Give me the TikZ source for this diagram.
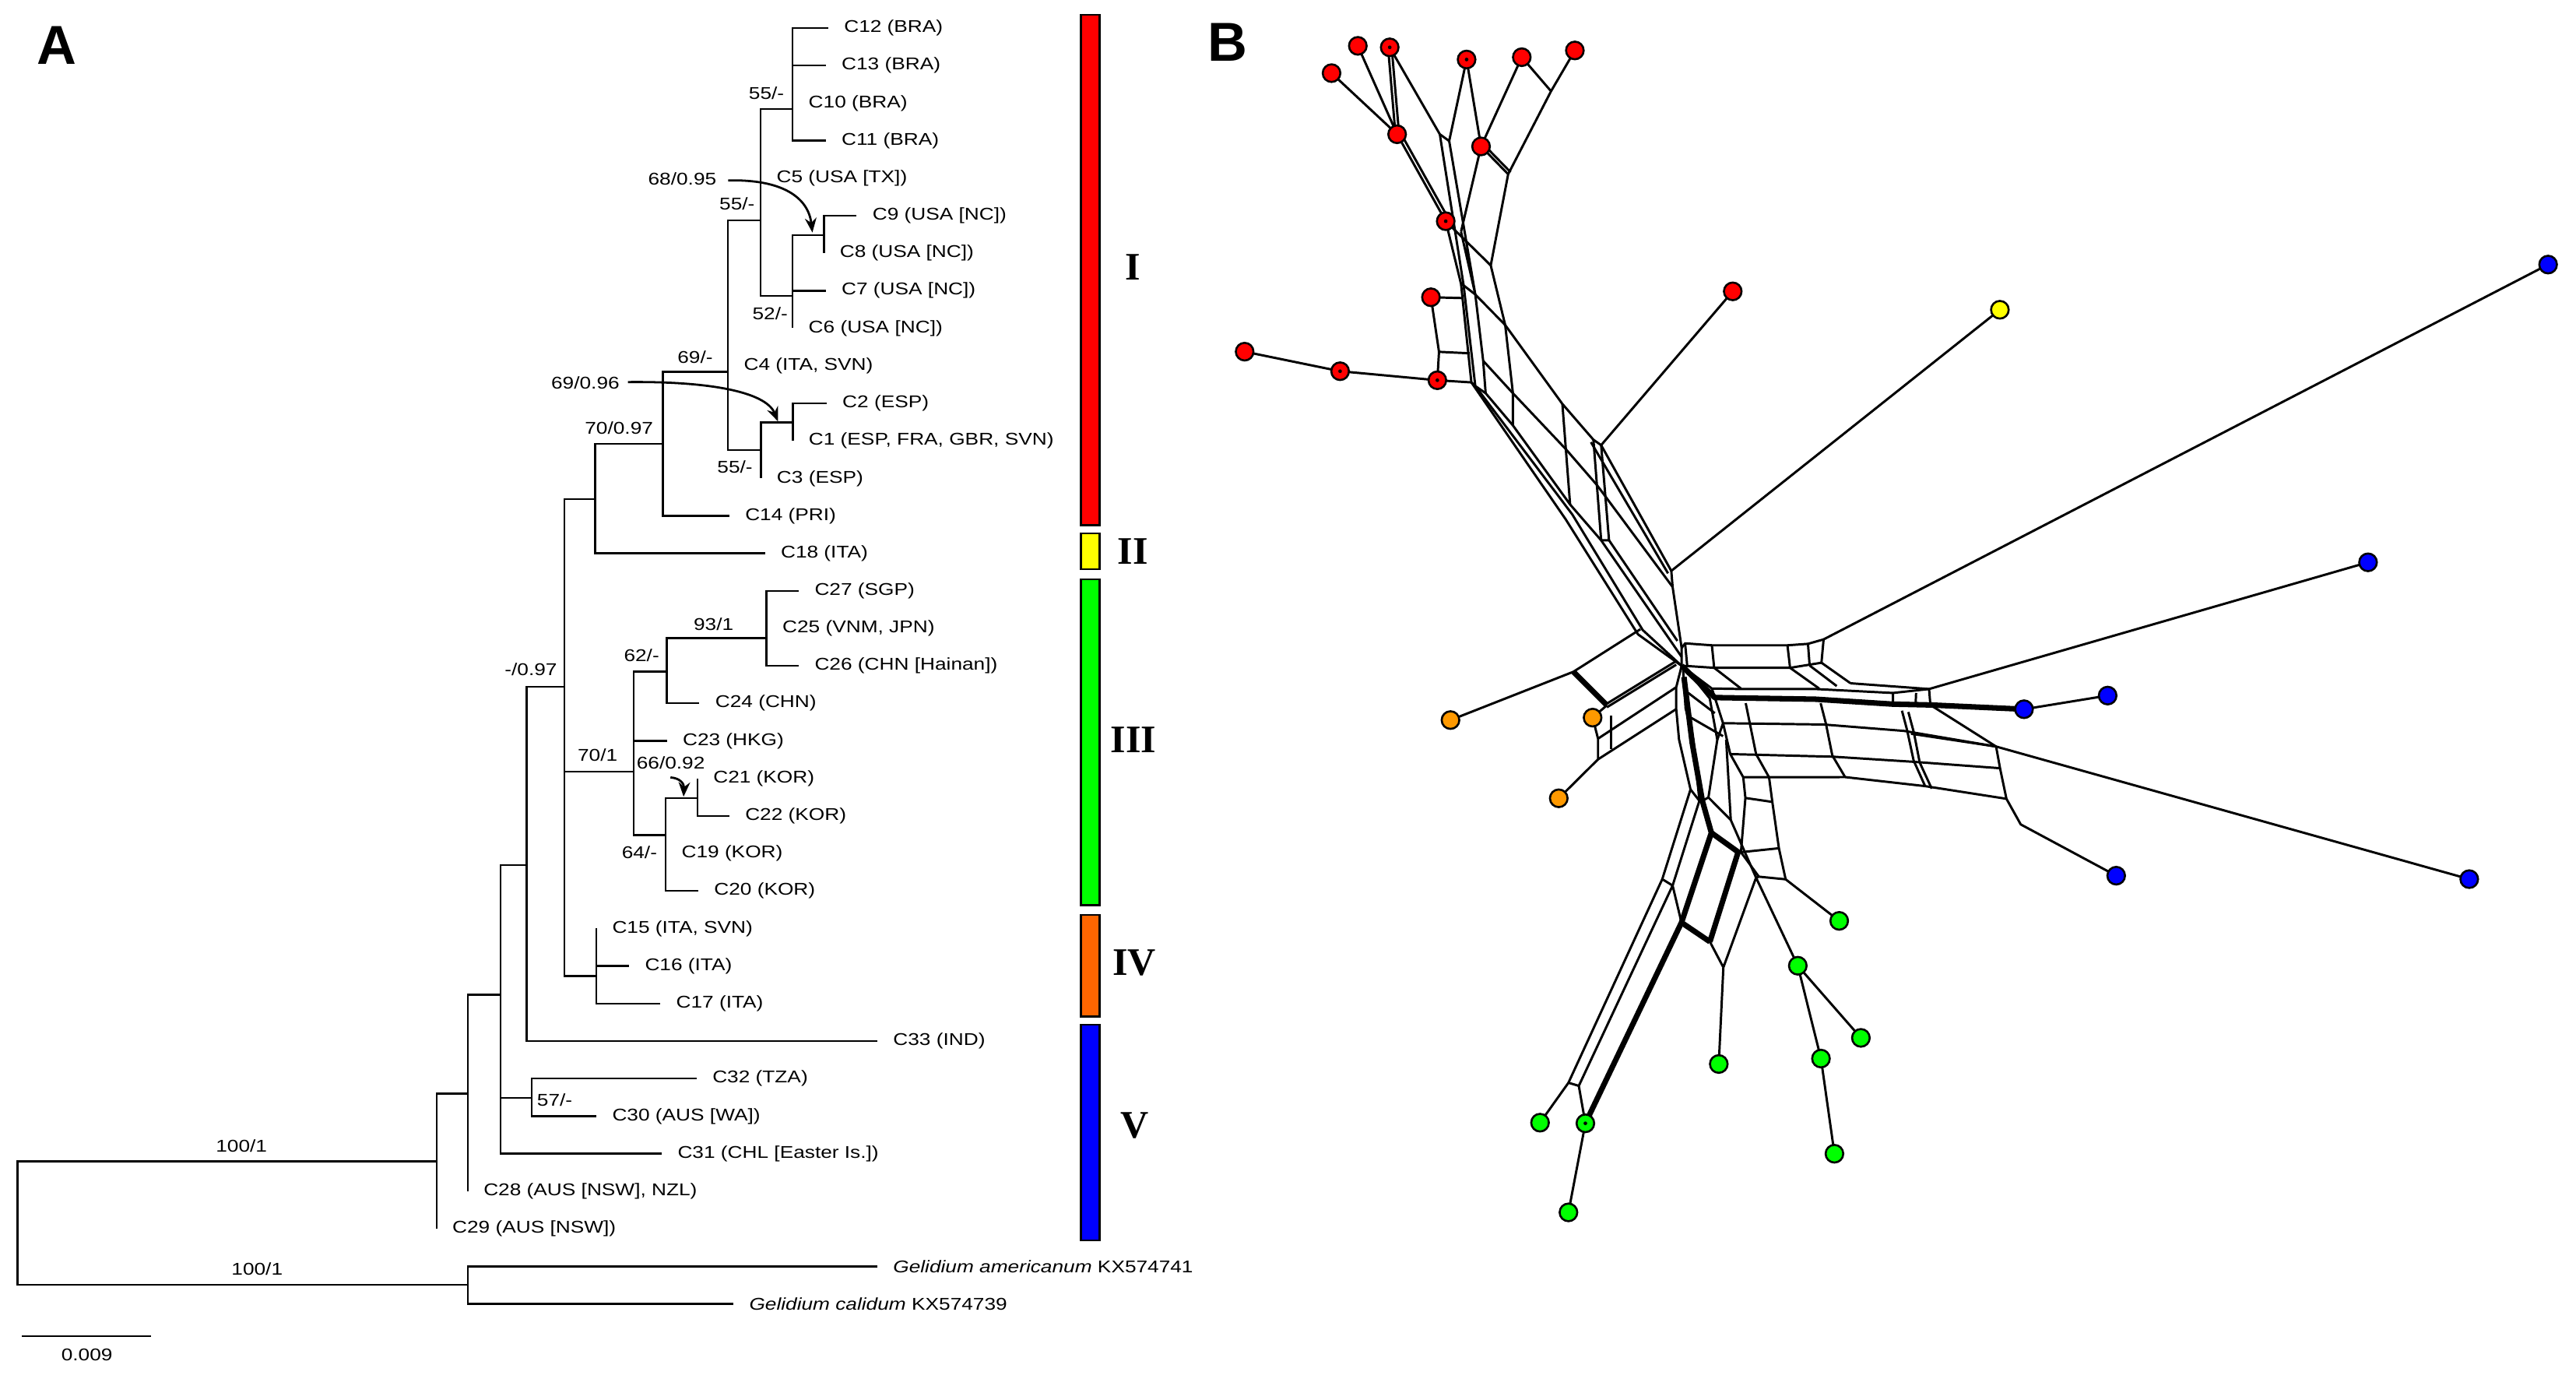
\documentclass[tikz,border=0pt]{standalone}
\usepackage{fontspec}
\setmainfont{Liberation Sans}
\newfontfamily\arialw[FakeStretch=1.2]{Liberation Sans}
\newfontfamily\timesf{Liberation Serif}
\usetikzlibrary{arrows.meta,calc}
\definecolor{cI}{RGB}{255,0,0}
\definecolor{cII}{RGB}{255,255,0}
\definecolor{cIII}{RGB}{0,255,0}
\definecolor{cIV}{RGB}{255,102,0}
\definecolor{cV}{RGB}{0,0,255}
\definecolor{cOr}{RGB}{255,153,0}
\begin{document}
\begin{tikzpicture}[x=0.02cm,y=-0.02cm,
  br/.style={line width=0.65pt},
  tl/.style={anchor=west,inner sep=0pt,outer xsep=0.194cm,font=\arialw\fontsize{5.9}{7}\selectfont},
  sl/.style={inner sep=0pt,font=\arialw\fontsize{5.9}{7}\selectfont},
  arr/.style={line width=0.75pt,-{Stealth[length=5pt,width=4pt]}},
  bar/.style={draw=black,line width=0.6pt},
  roman/.style={inner sep=0pt,font=\timesf\bfseries\fontsize{13.5}{14}\selectfont},
  panel/.style={inner sep=0pt,font=\bfseries\fontsize{19}{20}\selectfont},
  nw/.style={line width=0.8pt,line join=round},
  nwt/.style={line width=1.9pt,line join=round},
  dot/.style={circle,draw=black,line width=0.7pt,minimum size=0.215cm,inner sep=0pt},
  pin/.style={circle,fill=black,minimum size=0.045cm,inner sep=0pt}]
\useasboundingbox (0,0) rectangle (1568,843);
% ================= PANEL A =================
\node[panel] (pA) at (34.7,27.8) {A};
% tips
\node[tl] (c12) at (504.1,17.1) {C12 (BRA)};
\node[tl] (c13) at (502.6,39.9) {C13 (BRA)};
\node[tl] (c10) at (482.5,62.8) {C10 (BRA)};
\node[tl] (c11) at (502.6,85.6) {C11 (BRA)};
\node[tl] (c5) at (463,108.4) {C5 (USA [TX])};
\node[tl] (c9) at (521.4,131.3) {C9 (USA [NC])};
\node[tl] (c8) at (501.5,154.1) {C8 (USA [NC])};
\node[tl] (c7) at (502.6,176.9) {C7 (USA [NC])};
\node[tl] (c6) at (482.5,199.7) {C6 (USA [NC])};
\node[tl] (c4) at (443.1,222.6) {C4 (ITA, SVN)};
\node[tl] (c2) at (503.1,245.4) {C2 (ESP)};
\node[tl] (c1) at (482.6,268.2) {C1 (ESP, FRA, GBR, SVN)};
\node[tl] (c3) at (463.2,291.1) {C3 (ESP)};
\node[tl] (c14) at (443.9,313.9) {C14 (PRI)};
\node[tl] (c18) at (465.6,336.7) {C18 (ITA)};
\node[tl] (c27) at (486.2,359.6) {C27 (SGP)};
\node[tl] (c25) at (466.6,382.4) {C25 (VNM, JPN)};
\node[tl] (c26) at (486.2,405.2) {C26 (CHN [Hainan])};
\node[tl] (c24) at (425.7,428.0) {C24 (CHN)};
\node[tl] (c23) at (405.9,450.9) {C23 (HKG)};
\node[tl] (c21) at (424.5,473.7) {C21 (KOR)};
\node[tl] (c22) at (443.9,496.5) {C22 (KOR)};
\node[tl] (c19) at (405.2,519.4) {C19 (KOR)};
\node[tl] (c20) at (425,542.2) {C20 (KOR)};
\node[tl] (c15) at (363,565.0) {C15 (ITA, SVN)};
\node[tl] (c16) at (382.9,587.9) {C16 (ITA)};
\node[tl] (c17) at (401.9,610.7) {C17 (ITA)};
\node[tl] (c33) at (534,633.5) {C33 (IND)};
\node[tl] (c32) at (424,656.3) {C32 (TZA)};
\node[tl] (c30) at (363,679.2) {C30 (AUS [WA])};
\node[tl] (c31) at (402.8,702.0) {C31 (CHL [Easter Is.])};
\node[tl] (c28) at (284.7,724.8) {C28 (AUS [NSW], NZL)};
\node[tl] (c29) at (265.7,747.7) {C29 (AUS [NSW])};
\node[tl] (gam) at (534,770.8) {\textit{Gelidium americanum} KX574741};
\node[tl] (gcal) at (446.4,793.4) {\textit{Gelidium calidum} KX574739};
% internal nodes
\coordinate (root) at (10.6,744);
\coordinate (og) at (284.7,781.9);
\coordinate (n1) at (265.7,706.7);
\coordinate (n2) at (284.7,665.5);
\coordinate (n3) at (304.6,605.3);
\coordinate (n4) at (320.6,526.4);
\coordinate (n5) at (323.7,668);
\coordinate (n6) at (343.5,417.8);
\coordinate (n7) at (362.2,303.6);
\coordinate (n8) at (403.5,270.1);
\coordinate (n9) at (443.1,226.2);
\coordinate (n10) at (463,134);
\coordinate (n11) at (482.5,66.3);
\coordinate (n12) at (482.5,180);
\coordinate (n13) at (501.5,143);
\coordinate (n14) at (463.2,274);
\coordinate (n15) at (482.6,257.1);
\coordinate (n16) at (385.8,469.5);
\coordinate (n17) at (405.9,408.6);
\coordinate (n18) at (466.6,388.3);
\coordinate (n19) at (405.2,508.2);
\coordinate (n20) at (424.5,485.7);
\coordinate (n21) at (363,594);
% branches
\draw[br] (root) |- (n1) (root) |- (og);
\draw[br] (og) |- (gam.west) (og) |- (gcal.west);
\draw[br] (n1) |- (n2) (n1) |- (c29.west);
\draw[br] (n2) |- (n3) (n2) |- (c28.west);
\draw[br] (n3) |- (n4) (n3) |- (n5) (n3) |- (c31.west);
\draw[br] (n5) |- (c32.west) (n5) |- (c30.west);
\draw[br] (n4) |- (n6) (n4) |- (c33.west);
\draw[br] (n6) |- (n7) (n6) |- (n16) (n6) |- (n21);
\draw[br] (n7) |- (n8) (n7) |- (c18.west);
\draw[br] (n8) |- (n9) (n8) |- (c14.west);
\draw[br] (n9) |- (n10) (n9) |- (c4.west) (n9) |- (n14);
\draw[br] (n10) |- (n11) (n10) |- (c5.west) (n10) |- (n12);
\draw[br] (n11) |- (c12.west) (n11) |- (c13.west) (n11) |- (c10.west) (n11) |- (c11.west);
\draw[br] (n12) |- (n13) (n12) |- (c7.west) (n12) |- (c6.west);
\draw[br] (n13) |- (c9.west) (n13) |- (c8.west);
\draw[br] (n14) |- (n15) (n14) |- (c3.west);
\draw[br] (n15) |- (c2.west) (n15) |- (c1.west);
\draw[br] (n16) |- (n17) (n16) |- (c23.west) (n16) |- (n19);
\draw[br] (n17) |- (n18) (n17) |- (c24.west);
\draw[br] (n18) |- (c27.west) (n18) |- (c25.west) (n18) |- (c26.west);
\draw[br] (n19) |- (n20) (n19) |- (c19.west) (n19) |- (c20.west);
\draw[br] (n20) |- (c21.west) (n20) |- (c22.west);
\draw[br] (n21) |- (c15.west) (n21) |- (c16.west) (n21) |- (c17.west);
% support values
\node[sl,anchor=east] (s1) at (477.6,56.9) {55/-};
\node[sl,anchor=east] (s2) at (436.4,109) {68/0.95};
\node[sl,anchor=east] (s3) at (459.7,124) {55/-};
\node[sl,anchor=east] (s4) at (479.8,191) {52/-};
\node[sl,anchor=east] (s5) at (434.2,217.2) {69/-};
\node[sl,anchor=east] (s6) at (377.4,233) {69/0.96};
\node[sl,anchor=east] (s7) at (397.9,260.6) {70/0.97};
\node[sl,anchor=east] (s8) at (458.4,284.3) {55/-};
\node[sl,anchor=east] (s9) at (446.8,379.9) {93/1};
\node[sl,anchor=east] (s10) at (401.6,398.8) {62/-};
\node[sl,anchor=east] (s11) at (339.4,407.5) {-/0.97};
\node[sl,anchor=east] (s12) at (376.2,459.7) {70/1};
\node[sl,anchor=east] (s13) at (429.4,464.4) {66/0.92};
\node[sl,anchor=east] (s14) at (400.3,518.9) {64/-};
\node[sl,anchor=west] (s15) at (326.6,669.2) {57/-};
\node[sl] (s16) at (147,697.5) {100/1};
\node[sl] (s17) at (156.5,772.3) {100/1};
% arrows
\coordinate (t68) at (494.5,141.5);
\coordinate (t69) at (473.6,256.5);
\coordinate (t66) at (416.1,484.8);
\draw[arr] ($(s2.east)+(6.8,0.8)$) .. controls (476,109) and (492,120) .. (t68);
\draw[arr] ($(s6.east)+(4.8,-0.5)$) .. controls (430,232) and (466,238) .. (t69);
\draw[arr] (408.1,473.1) .. controls (414,473.5) and (416.5,477) .. (t66);
% scale bar
\coordinate (sb1) at (13.5,813.2);
\coordinate (sb2) at (91.8,813.2);
\draw[br] (sb1) -- (sb2);
\node[sl] (sbl) at (52.9,824.5) {0.009};
% clade bars
\draw[bar,fill=cI] (657.9,9) rectangle (669.3,319.6);
\draw[bar,fill=cII] (657.9,324.4) rectangle (669.3,346.2);
\draw[bar,fill=cIII] (657.9,352.5) rectangle (669.3,550.8);
\draw[bar,fill=cIV] (657.9,556.6) rectangle (669.3,618.6);
\draw[bar,fill=cV] (657.9,623.4) rectangle (669.3,755);
\node[roman] (rI) at (689.5,162.4) {I};
\node[roman] (rII) at (689.5,335.6) {II};
\node[roman] (rIII) at (690,450.2) {III};
\node[roman] (rIV) at (690.5,585.7) {IV};
\node[roman] (rV) at (690.5,684.9) {V};
% ================= PANEL B =================
\node[panel] (pB) at (747.1,25.7) {B};
% dot positions
\coordinate (rd1) at (826.5,27.9);
\coordinate (rd2) at (845.9,28.8);
\coordinate (rd3) at (810.5,44.5);
\coordinate (rd4) at (892.7,36.2);
\coordinate (rd5) at (926.3,34.8);
\coordinate (rd6) at (958.6,30.7);
\coordinate (rd7) at (850.4,81.7);
\coordinate (rd8) at (901.5,89.1);
\coordinate (rd9) at (880.0,134.6);
\coordinate (rd10) at (871.0,180.9);
\coordinate (rd11) at (1054.7,177.3);
\coordinate (rd12) at (757.6,214.0);
\coordinate (rd13) at (815.7,225.9);
\coordinate (rd14) at (874.9,231.4);
\coordinate (yd1) at (1217.3,188.5);
\coordinate (bd1) at (1551,161);
\coordinate (bd2) at (1441.4,342.2);
\coordinate (bd3) at (1282.9,423.3);
\coordinate (bd4) at (1232,431.6);
\coordinate (bd5) at (1288.1,532.9);
\coordinate (bd6) at (1503,535);
\coordinate (od1) at (882.9,438.2);
\coordinate (od2) at (969.4,436.7);
\coordinate (od3) at (948.8,485.8);
\coordinate (gd1) at (1119.5,560.4);
\coordinate (gd2) at (1094.3,587.7);
\coordinate (gd3) at (1132.7,631.6);
\coordinate (gd4) at (1046.2,647.5);
\coordinate (gd5) at (1108.4,644.2);
\coordinate (gd6) at (1116.6,702.1);
\coordinate (gd7) at (937.4,683.2);
\coordinate (gd8) at (965,683.6);
\coordinate (gd9) at (954.7,737.8);
% internal network points
\coordinate (J1) at (876.4,81.7);
\coordinate (J2) at (882.1,85.8);
\coordinate (J3) at (944.1,55.5);
\coordinate (J4) at (918,106);
\coordinate (J5) at (907.4,161.5);
\coordinate (K1) at (889.3,141);
\coordinate (T1) at (889.3,172.7);
\coordinate (T2) at (890.9,173.7);
\coordinate (T3) at (898,179.2);
\coordinate (T4) at (895.6,232.7);
\coordinate (T5) at (898,234.9);
\coordinate (T6) at (904.3,239.3);
\coordinate (T7) at (902.8,219.6);
\coordinate (T8) at (916.2,197.8);
\coordinate (T9) at (920.9,239.3);
\coordinate (T10) at (920.9,258.9);
\coordinate (T11) at (951,245.8);
\coordinate (T12) at (955.7,307);
\coordinate (T13) at (969.9,267.6);
\coordinate (T14) at (974.6,328.8);
\coordinate (T15) at (974.6,270.9);
\coordinate (T16) at (979.4,328.8);
\coordinate (T17) at (1017.3,347.4);
\coordinate (T18) at (1018.1,357.2);
\coordinate (T19) at (1023.6,394.3);
\coordinate (H) at (1023.6,405.2);
% red top
\draw[nw] (rd3) -- (rd7) (rd1) -- (rd7);
\draw[nw] ($(rd2)+(-1,0)$) -- ($(rd7)+(-1,0)$) ($(rd2)+(1.2,0)$) -- ($(rd7)+(1.2,0)$);
\draw[nw] (rd2) -- (J1) -- (J2) -- (rd4);
\draw[nw] (rd4) -- (rd8) (rd5) -- (rd8) (rd5) -- (J3) (rd6) -- (J3) (J3) -- (J4);
\draw[nw] (rd8) -- (J4) ($(rd8)+(1.5,-1.2)$) -- ($(J4)+(1.5,-1.2)$);
\draw[nw] (J4) -- (J5);
\draw[nw] (rd7) -- (rd9) ($(rd7)+(2,-1)$) -- ($(rd9)+(2,-1)$);
\draw[nw] (rd9) -- (J5) (rd8) -- (K1);
% trunk
\draw[nw] (rd9) -- (T1) -- (T4);
\draw[nw] (J1) -- (T2) -- (T5);
\draw[nw] (J2) -- (T3) (K1) -- (T3) -- (T7) -- (T6);
\draw[nw] (T1) -- (T2) -- (T3);
\draw[nw] (J5) -- (T8) -- (T9) -- (T10);
\draw[nw] (T11) -- (T12) (T13) -- (T14) (T15) -- (T16) (T14) -- (T16);
\draw[nw] (T17) -- (T18) -- (T19) -- (H);
\draw[nw] (T3) -- (T8) -- (T11) -- (T13) -- (T15) -- (T17);
\draw[nw] ($(T13)+(-1.5,1.5)$) -- ($(T17)+(-2,1.5)$);
\draw[nw] (T7) -- (T9) -- ($(T11)!0.45!(T12)$) -- ($(T13)!0.45!(T14)$) -- (T18);
\draw[nw] (T6) -- (T10) -- (T12) -- (T14) -- ($(T19)!0.5!(H)$);
\draw[nw] (T16) -- (1021,390);
\draw[nw] (T5) -- (957,313) -- (999.9,383.4) -- (H);
\draw[nw] (T4) -- (953,316) -- (997,386) -- (H);
\draw[nw] (T6) -- (T5) -- (T4);
% branches from trunk
\draw[nw] (rd11) -- (T15);
\draw[nw] (yd1) -- (T17);
\draw[nw] (rd10) -- (890.5,181.4);
\draw[nw] (rd10) -- (875.9,214.1) -- (rd14);
\draw[nw] (875.9,214.1) -- (894.6,215);
\draw[nw] (rd12) -- (rd13) -- (rd14) -- (T4);
% orange side
\draw[nw] (od1) -- (957.7,408.8) -- (998.5,382.9);
\draw[nwt] (957.7,408.8) -- (978.1,429.2);
\draw[nw] (978.1,428.2) -- (1020.3,402.3) (978.1,430.4) -- (1020.3,404.5);
\draw[nw] (od2) -- (978.1,429.2);
\draw[nw] (od2) -- (972.7,449.5) -- (972.7,462.1) -- (od3);
\draw[nw] (972.7,449.5) -- (1020.3,418.2) (972.7,462.1) -- (1020.3,431.5);
\draw[nw] (980.8,435.4) -- (980.8,455.8);
% upper rectangle to bd1
\draw[nw] (T19) -- (1025.7,391.5) -- (1042,392.7) -- (1088,392.7) -- (1100.5,391.8) -- (1110,389.1) -- (bd1);
\draw[nw] (H) -- (1027,405.3) -- (1043.4,406.4) -- (1089.6,406.4) -- (1108.7,403.3);
\draw[nw] (1025.7,391.5) -- (1027,405.3) (1042,392.7) -- (1043.4,406.4) (1088,392.7) -- (1089.6,406.4) (1100.5,391.8) -- (1101.5,405) (1110,389.1) -- (1108.7,403.3);
\draw[nw] (1108.7,403.3) -- (1126.4,415.8) (1101.5,405) -- (1118,417.5) (1089.6,406.4) -- (1107.3,419) (1043.4,406.4) -- (1059.7,419);
% band to bd2 / bd4
\draw[nw] (H) -- (1042,419) -- (1059.5,419.3) -- (1105,419.3) -- (1152.2,421.7) -- (1174.2,419.3) -- (bd2);
\draw[nw] (1126.4,415.8) -- (1174.2,419.3);
\draw[nwt] (H) -- (1043.8,424.5) -- (1105,425.5) -- (1152.2,428.5) -- (1175,429) -- (bd4);
\draw[nw] (1043.8,424.5) -- (1042,419) (1152.2,421.7) -- (1152.2,428.5) (1166.3,421.7) -- (1166,428.7) (1174.2,419.3) -- (1175,429);
\draw[nw] (bd4) -- (bd3);
% lower grid
\draw[nw] (1048.8,440.1) -- (1110,440.9) -- (1159,444.8) -- (1215,454.3) -- (bd6);
\draw[nw] (1053.2,458.9) -- (1116,460.5) -- (1164.8,463.6) -- (1217.4,467.5);
\draw[nw] (1061.1,473) -- (1123.1,472.9) -- (1171.8,478.4) -- (1221.3,486.1) -- (1230,501.7) -- (bd5);
\draw[nw] (1043.8,424.5) -- (1048.8,440.1) -- (1053.2,458.9) -- (1061.1,473) -- (1062.4,485.6) -- (1059.7,518.6) -- (1070.6,533.5);
\draw[nw] (1062.6,427.9) -- (1068.9,458.9) -- (1076.8,473) -- (1078.8,488) -- (1082.8,516.2) -- (1086.9,535.1) -- (gd1);
\draw[nw] (1062.4,485.6) -- (1078.8,488) (1059.7,518.6) -- (1082.8,516.2) (1070.6,533.5) -- (1086.9,535.1);
\draw[nw] (1108.2,427.9) -- (1111.4,440.3) -- (1115.3,459.7) -- (1123.1,472.9);
\draw[nw] (1157.7,432.5) -- (1160.8,444.2) -- (1164.8,462.8) -- (1171.8,478.4);
\draw[nw] (1161.6,433.3) -- (1165,446) -- (1168.5,464) -- (1175.8,479.9);
\draw[nw] (1175,429) -- (1215,454.3) -- (1217.4,467.5) -- (1221.3,486.1);
\draw[nw] (1163.2,446.5) -- (1215,454.3);
% down-left (green)
\draw[nw] (H) -- (1020.3,418.2) -- (1020.3,431.5) -- (1022,450) -- (1029,480.4) -- (1011.8,535) -- (954.7,658.9) -- (gd7);
\draw[nw] (1024.5,408) -- (1026,431) -- (1030.8,450.2) -- (1034.4,487.3) -- (1018.1,538.9) -- (961,660.8) -- (gd8);
\draw[nwt] (1025,412) -- (1030,452) -- (1036.2,487.3) -- (1041.7,506.8) -- (1023.5,561.4) -- (gd8);
\draw[nw] (1029,480.4) -- (1034.4,487.3) (1011.8,535) -- (1018.1,538.9) -- (1023.5,561.4) (954.7,658.9) -- (961,660.8);
\draw[nw] (1027,408) -- (1040.7,425) -- (1045.3,450.2) -- (1039.9,485.3) -- (1053.5,499) -- (1068.9,534.1);
\draw[nw] (1039.9,485.3) -- (1036.2,487.3);
\draw[nw] (1045.3,450.2) -- (1048.8,440.1) (1050.7,450.2) -- (1053.5,499);
\draw[nw] (1027.1,421.3) -- (1043.8,434) (1028,436) -- (1048.8,448);
\draw[nwt] (1041.7,506.8) -- (1058,518.5) -- (1040.8,573.1) (1023.5,561.4) -- (1040.8,573.1);
\draw[nw] (1040.8,573.1) -- (1049,588.7) -- (gd4) (1068.9,534.1) -- (1049,588.7);
\draw[nw] (1068.9,534.1) -- (gd2) (1070.6,533.5) -- (1068.9,534.1);
\draw[nw] (gd2) -- (gd3) (gd2) -- (gd5) -- (gd6) (gd8) -- (gd9);
% dots
\foreach \p in {rd1,rd2,rd3,rd4,rd5,rd6,rd7,rd8,rd9,rd10,rd11,rd12,rd13,rd14}
  \node[dot,fill=cI] (\p n) at (\p) {};
\node[dot,fill=cII] (yd1n) at (yd1) {};
\foreach \p in {bd1,bd2,bd3,bd4,bd5,bd6}
  \node[dot,fill=cV] (\p n) at (\p) {};
\foreach \p in {od1,od2,od3}
  \node[dot,fill=cOr] (\p n) at (\p) {};
\foreach \p in {gd1,gd2,gd3,gd4,gd5,gd6,gd7,gd8,gd9}
  \node[dot,fill=cIII] (\p n) at (\p) {};
\foreach \p in {rd2,rd4,rd9,rd13,rd14,gd8}
  \node[pin] (\p p) at (\p) {};
\end{tikzpicture}
\end{document}
